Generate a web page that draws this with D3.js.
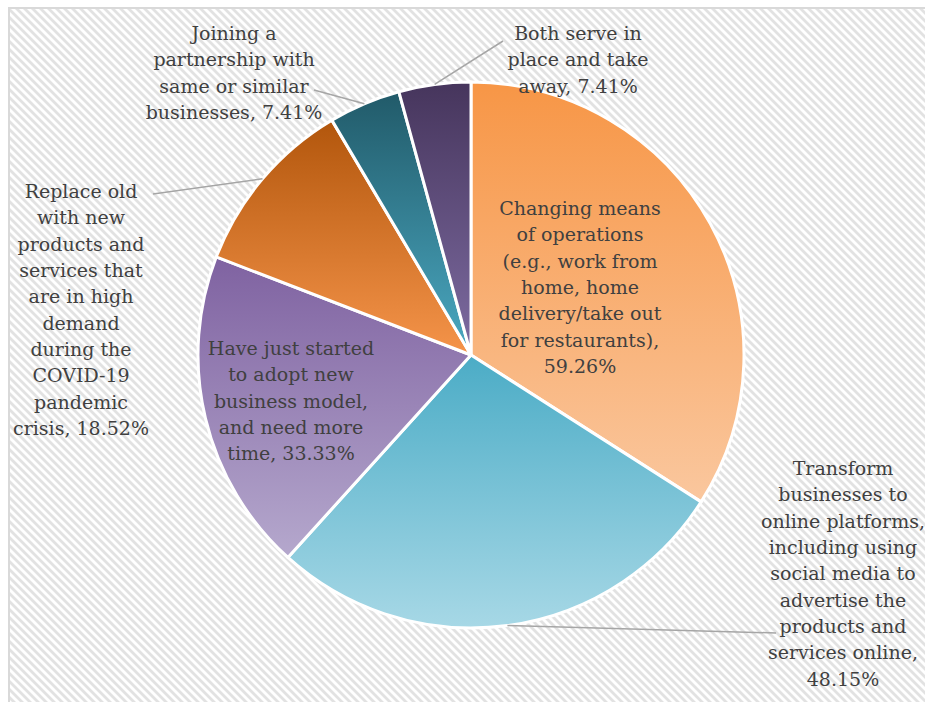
<!DOCTYPE html>
<html>
<head>
<meta charset="utf-8">
<script src="https://cdn.jsdelivr.net/npm/d3@7"></script>
<style>
  html, body { margin: 0; padding: 0; background: #ffffff; }
  svg { display: block; }
</style>
</head>
<body>
<svg id="chart" width="925" height="702"></svg>
<script>
// Survey responses: business adaptation strategies during COVID-19
const categories = [
  "Changing means of operations (e.g., work from home, home delivery/take out for restaurants)",
  "Transform businesses to online platforms, including using social media to advertise the products and services online",
  "Have just started to adopt new business model, and need more time",
  "Replace old with new products and services that are in high demand during the COVID-19 pandemic crisis",
  "Joining a partnership with same or similar businesses",
  "Both serve in place and take away"
];
const values = [59.26, 48.15, 33.33, 18.52, 7.41, 7.41];

// Wrapped label lines, as printed on the chart
const labelLines = [
  ["Changing means", "of operations", "(e.g., work from", "home, home", "delivery/take out", "for restaurants),", "59.26%"],
  ["Transform", "businesses to", "online platforms,", "including using", "social media to", "advertise the", "products and", "services online,", "48.15%"],
  ["Have just started", "to adopt new", "business model,", "and need more", "time, 33.33%"],
  ["Replace old", "with new", "products and", "services that", "are in high", "demand", "during the", "COVID-19", "pandemic", "crisis, 18.52%"],
  ["Joining a", "partnership with", "same or similar", "businesses, 7.41%"],
  ["Both serve in", "place and take", "away, 7.41%"]
];

// Slice gradients (top colour, bottom colour)
const sliceColors = [
  ["#F79646", "#FAC79E"],
  ["#4BACC6", "#A7D8E6"],
  ["#7F62A1", "#B5A8CD"],
  ["#B2560C", "#F5944A"],
  ["#215A69", "#4BA9C2"],
  ["#46355C", "#7E6CA2"]
];

// Label placement: centre x, first baseline y, optional leader start point
const labelLayout = [
  { x: 580, y: 215, leader: null },
  { x: 843, y: 475, leader: [776, 633] },
  { x: 291, y: 355, leader: null },
  { x: 81,  y: 198, leader: [153, 194] },
  { x: 234, y: 40,  leader: [314, 90] },
  { x: 578, y: 40,  leader: [503, 41] }
];

const W = 925, H = 702;
const cx = 471, cy = 355, R = 273;
const lineH = 26.35;

const svg = d3.select("#chart");
const defs = svg.append("defs");

// Diagonal hatch background
const pat = defs.append("pattern")
  .attr("id", "hatch")
  .attr("patternUnits", "userSpaceOnUse")
  .attr("width", 8).attr("height", 8);
pat.append("rect").attr("width", 8).attr("height", 8).attr("fill", "#ffffff");
pat.append("path")
  .attr("d", "M0,0L8,8M-2,6L2,10M6,-2L10,2")
  .attr("stroke", "#e2e2e2")
  .attr("stroke-width", 2.8);

svg.append("rect")
  .attr("width", W).attr("height", H).attr("fill", "#ffffff");
svg.append("rect")
  .attr("x", 9).attr("y", 8)
  .attr("width", W + 20).attr("height", H + 20)
  .attr("fill", "url(#hatch)")
  .attr("stroke", "#d9d9d9")
  .attr("stroke-width", 2);

// Per-slice vertical gradients
sliceColors.forEach((c, i) => {
  const g = defs.append("linearGradient")
    .attr("id", "grad" + i)
    .attr("x1", 0).attr("y1", 0).attr("x2", 0).attr("y2", 1);
  g.append("stop").attr("offset", "0%").attr("stop-color", c[0]);
  g.append("stop").attr("offset", "100%").attr("stop-color", c[1]);
});

const pie = d3.pie().sort(null).value(d => d);
const arcs = pie(values);
const arc = d3.arc().innerRadius(0).outerRadius(R);
const edgeArc = d3.arc().innerRadius(R).outerRadius(R);

const g = svg.append("g").attr("transform", `translate(${cx},${cy})`);

// Leader lines from labels to slice edges
arcs.forEach((a, i) => {
  const lay = labelLayout[i];
  if (!lay.leader) return;
  const p = edgeArc.centroid(a);
  svg.append("line")
    .attr("x1", lay.leader[0]).attr("y1", lay.leader[1])
    .attr("x2", cx + p[0]).attr("y2", cy + p[1])
    .attr("stroke", "#a6a6a6")
    .attr("stroke-width", 1.5);
});

g.selectAll("path.slice")
  .data(arcs)
  .join("path")
  .attr("class", "slice")
  .attr("d", arc)
  .attr("fill", (d, i) => `url(#grad${i})`)
  .attr("stroke", "#ffffff")
  .attr("stroke-width", 3)
  .attr("stroke-linejoin", "round");

// Data labels
labelLines.forEach((lines, i) => {
  const lay = labelLayout[i];
  const t = svg.append("text")
    .attr("x", lay.x).attr("y", lay.y)
    .attr("text-anchor", "middle")
    .attr("font-family", "'DejaVu Serif', serif")
    .attr("font-size", 19)
    .attr("fill", "#404040");
  lines.forEach((ln, k) => {
    t.append("tspan")
      .attr("x", lay.x)
      .attr("y", lay.y + k * lineH)
      .text(ln);
  });
});
</script>
</body>
</html>
